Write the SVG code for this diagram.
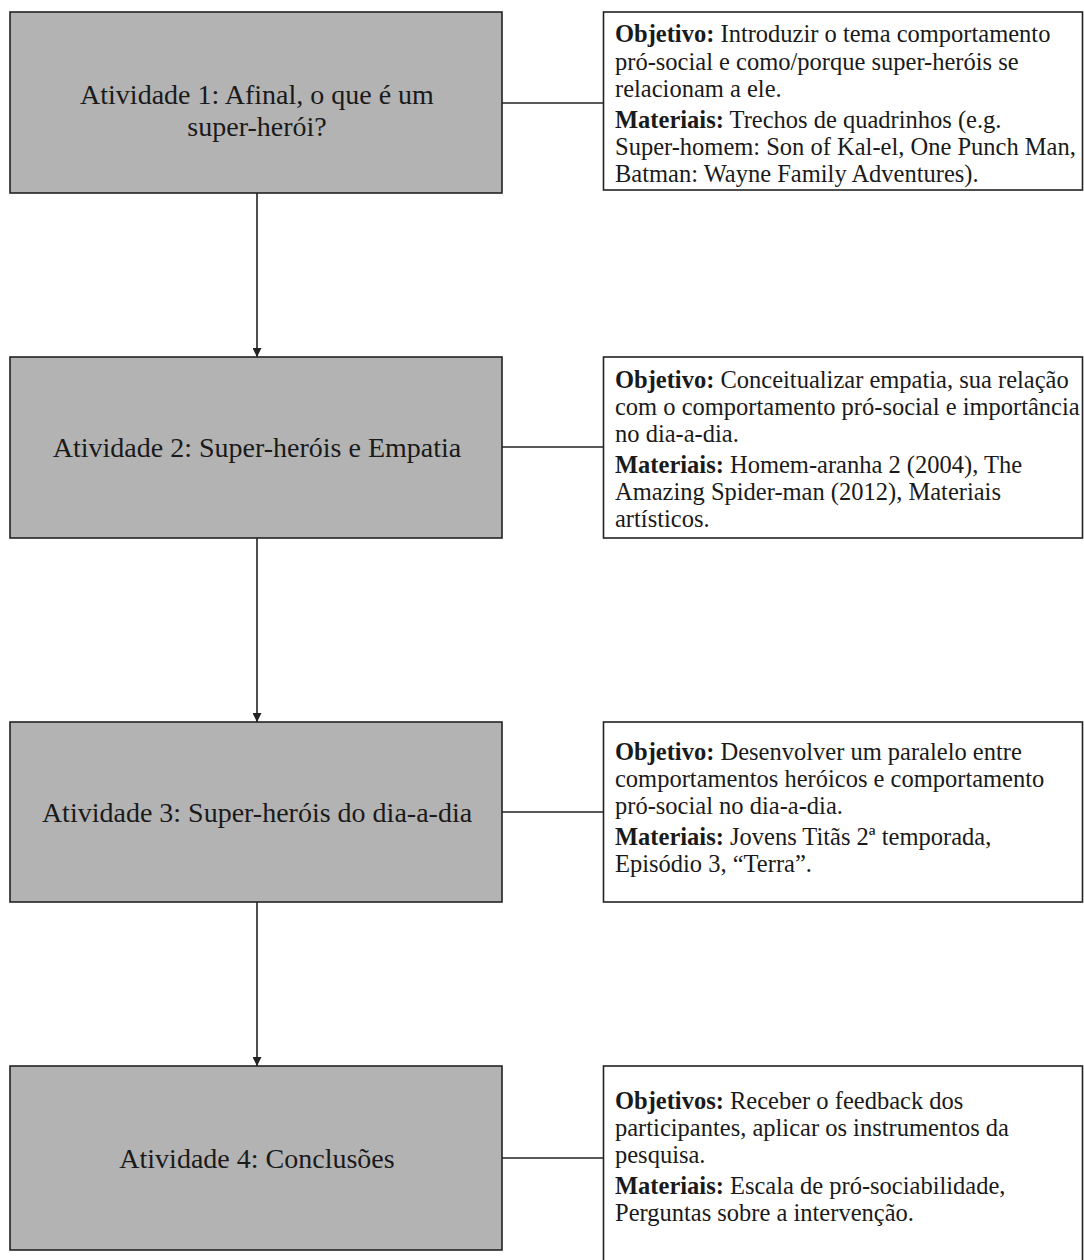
<svg xmlns="http://www.w3.org/2000/svg" width="1084" height="1260" viewBox="0 0 1084 1260">
  <defs>
    <marker id="arrow" viewBox="0 0 10 10" refX="10" refY="5" markerWidth="9" markerHeight="9" markerUnits="userSpaceOnUse" orient="auto">
      <path d="M0,0 L10,5 L0,10 Z" fill="#222"/>
    </marker>
    <style>
      .act rect { fill: #b3b3b3; stroke: #222; stroke-width: 1.6; }
      .act text { font-family: "Liberation Serif", "Times New Roman", serif; font-size: 28px; fill: #1a1a1a; text-anchor: middle; }
      .info rect { fill: #ffffff; stroke: #222; stroke-width: 1.6; }
      .info text { font-family: "Liberation Serif", "Times New Roman", serif; font-size: 24.5px; fill: #1a1a1a; }
      .info .b { font-weight: bold; }
      .conn line { stroke: #222; stroke-width: 1.6; }
    </style>
  </defs>
  <rect width="1084" height="1260" fill="#ffffff"/>

  <!-- flow arrows between activities and links to the description boxes -->
  <g class="conn" id="connectors">
    <line x1="257" y1="193" x2="257" y2="357" marker-end="url(#arrow)"/>
    <line x1="257" y1="538" x2="257" y2="722" marker-end="url(#arrow)"/>
    <line x1="257" y1="902" x2="257" y2="1066" marker-end="url(#arrow)"/>
    <line x1="502" y1="103" x2="603" y2="103"/>
    <line x1="502" y1="447" x2="603" y2="447"/>
    <line x1="502" y1="812" x2="603" y2="812"/>
    <line x1="502" y1="1158" x2="603" y2="1158"/>
  </g>

  <g class="act" id="atividade1">
    <rect x="10" y="12" width="492" height="181"/>
    <text x="257" y="104">Atividade 1: Afinal, o que é um</text>
    <text x="257" y="136">super-herói?</text>
  </g>
  <g class="info" id="info1">
    <rect x="603.5" y="12" width="479" height="178"/>
    <text x="615" y="42"><tspan class="b">Objetivo:</tspan> Introduzir o tema comportamento</text>
    <text x="615" y="70">pró-social e como/porque super-heróis se</text>
    <text x="615" y="97">relacionam a ele.</text>
    <text x="615" y="128"><tspan class="b">Materiais:</tspan> Trechos de quadrinhos (e.g.</text>
    <text x="615" y="155">Super-homem: Son of Kal-el, One Punch Man,</text>
    <text x="615" y="182">Batman: Wayne Family Adventures).</text>
  </g>

  <g class="act" id="atividade2">
    <rect x="10" y="357" width="492" height="181"/>
    <text x="257" y="457">Atividade 2: Super-heróis e Empatia</text>
  </g>
  <g class="info" id="info2">
    <rect x="603.5" y="357" width="479" height="181"/>
    <text x="615" y="388"><tspan class="b">Objetivo:</tspan> Conceitualizar empatia, sua relação</text>
    <text x="615" y="415">com o comportamento pró-social e importância</text>
    <text x="615" y="442">no dia-a-dia.</text>
    <text x="615" y="473"><tspan class="b">Materiais:</tspan> Homem-aranha 2 (2004), The</text>
    <text x="615" y="500">Amazing Spider-man (2012), Materiais</text>
    <text x="615" y="527">artísticos.</text>
  </g>

  <g class="act" id="atividade3">
    <rect x="10" y="722" width="492" height="180"/>
    <text x="257" y="822">Atividade 3: Super-heróis do dia-a-dia</text>
  </g>
  <g class="info" id="info3">
    <rect x="603.5" y="722" width="479" height="180"/>
    <text x="615" y="760"><tspan class="b">Objetivo:</tspan> Desenvolver um paralelo entre</text>
    <text x="615" y="787">comportamentos heróicos e comportamento</text>
    <text x="615" y="814">pró-social no dia-a-dia.</text>
    <text x="615" y="845"><tspan class="b">Materiais:</tspan> Jovens Titãs 2ª temporada,</text>
    <text x="615" y="872">Episódio 3, “Terra”.</text>
  </g>

  <g class="act" id="atividade4">
    <rect x="10" y="1066" width="492" height="184"/>
    <text x="257" y="1168">Atividade 4: Conclusões</text>
  </g>
  <g class="info" id="info4">
    <rect x="603.5" y="1066" width="479" height="210"/>
    <text x="615" y="1109"><tspan class="b">Objetivos:</tspan> Receber o feedback dos</text>
    <text x="615" y="1136">participantes, aplicar os instrumentos da</text>
    <text x="615" y="1163">pesquisa.</text>
    <text x="615" y="1194"><tspan class="b">Materiais:</tspan> Escala de pró-sociabilidade,</text>
    <text x="615" y="1221">Perguntas sobre a intervenção.</text>
  </g>
</svg>
